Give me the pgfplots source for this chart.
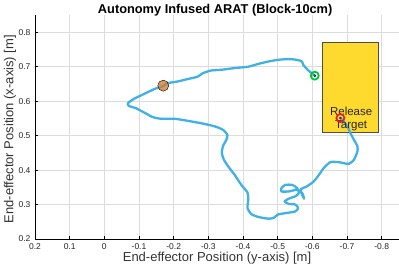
\documentclass[border=0pt]{standalone}
\usepackage{fontspec}
\setmainfont{Liberation Sans}
\usepackage{pgfplots}
\pgfplotsset{compat=1.18}
\definecolor{traj}{HTML}{3FB1E5}
\definecolor{boxy}{HTML}{FFDA2E}
\definecolor{boxe}{HTML}{4D4D4D}
\definecolor{brownm}{HTML}{D4803A}
\definecolor{greenm}{HTML}{00C832}
\definecolor{redm}{HTML}{E8202A}
\definecolor{gridc}{HTML}{DCDCDC}
\begin{document}
\begin{tikzpicture}
\begin{axis}[
  name=ax,
  scale only axis,
  width=364pt, height=224pt,
  x dir=reverse,
  xmin=-0.85, xmax=0.2,
  ymin=0.2, ymax=0.85,
  xtick={-0.8,-0.7,-0.6,-0.5,-0.4,-0.3,-0.2,-0.1,0,0.1,0.2},
  xticklabels={-0.8,-0.7,-0.6,-0.5,-0.4,-0.3,-0.2,-0.1,0,0.1,0.2},
  ytick={0.2,0.3,0.4,0.5,0.6,0.7,0.8},
  yticklabels={0.2,0.3,0.4,0.5,0.6,0.7,0.8},
  axis x line*=bottom,
  axis y line*=left,
  axis line style={black, line width=0.6pt},
  tick style={black, line width=0.5pt},
  major tick length=3pt,
  tick align=inside,
  grid=major,
  grid style={gridc, line width=0.5pt},
  tick label style={font=\fontsize{8.5}{10}\selectfont, text=black!85},
  xticklabel style={yshift=-1pt},
  yticklabel style={xshift=-1pt},
  title={\textbf{Autonomy Infused ARAT (Block-10cm)}},
  title style={font=\fontsize{12.8}{14}\selectfont, at={(axis description cs:0.495,1)}, anchor=base, yshift=-4pt},
  xlabel={End-effector Position (y-axis) [m]},
  ylabel={End-effector Position (x-axis) [m]},
  xlabel style={font=\fontsize{13}{15}\selectfont, text=black!80, at={(axis description cs:0.5,0)}, anchor=center, yshift=-19pt},
  ylabel style={font=\fontsize{13}{15}\selectfont, text=black!80, at={(axis description cs:-0.0687,0.49)}, anchor=center},
  clip=false,
]
% target box
\addplot[fill=boxy, draw=boxe, line width=0.8pt] coordinates {(-0.63,0.51) (-0.79,0.51) (-0.79,0.77) (-0.63,0.77)} -- cycle;
% trajectory
\addplot[traj, line width=2.3pt, smooth, tension=0.4, line join=round, line cap=round] coordinates {
(-0.608,0.673) (-0.589,0.689) (-0.574,0.705) (-0.570,0.715) (-0.555,0.720)
(-0.531,0.722) (-0.502,0.720) (-0.473,0.715) (-0.444,0.708) (-0.415,0.700)
(-0.376,0.696) (-0.337,0.691) (-0.308,0.689) (-0.284,0.681) (-0.269,0.671)
(-0.240,0.664) (-0.211,0.657) (-0.182,0.652) (-0.170,0.644) (-0.144,0.635)
(-0.115,0.621) (-0.086,0.607) (-0.068,0.594) (-0.071,0.586) (-0.090,0.580)
(-0.115,0.567) (-0.139,0.554) (-0.163,0.549) (-0.202,0.549) (-0.240,0.543)
(-0.279,0.536) (-0.318,0.527) (-0.342,0.517) (-0.355,0.502) (-0.352,0.488)
(-0.342,0.469) (-0.339,0.449) (-0.345,0.430) (-0.357,0.411) (-0.376,0.386)
(-0.395,0.357) (-0.413,0.335) (-0.415,0.314) (-0.413,0.290) (-0.423,0.273)
(-0.444,0.264) (-0.473,0.259) (-0.488,0.261) (-0.501,0.271) (-0.522,0.275)
(-0.551,0.280) (-0.559,0.290) (-0.551,0.300) (-0.532,0.302) (-0.520,0.309)
(-0.532,0.317) (-0.551,0.324) (-0.561,0.333) (-0.556,0.348) (-0.542,0.357)
(-0.522,0.357) (-0.511,0.348) (-0.511,0.338) (-0.532,0.338) (-0.556,0.343)
(-0.571,0.333) (-0.576,0.317) (-0.566,0.343) (-0.585,0.353) (-0.604,0.367)
(-0.619,0.386) (-0.633,0.406) (-0.652,0.423) (-0.676,0.423) (-0.705,0.418)
(-0.720,0.430) (-0.730,0.454) (-0.730,0.469) (-0.720,0.488) (-0.710,0.507)
(-0.701,0.527) (-0.686,0.546) (-0.681,0.551)
};
% markers
\addplot[only marks, mark=*, mark size=5.5pt, mark options={fill=brownm, draw=none, fill opacity=0.8}] coordinates {(-0.170,0.645)};
\addplot[only marks, mark=o, mark size=4pt, mark options={draw=greenm, fill=white, line width=1.8pt}] coordinates {(-0.607,0.674)};
\addplot[only marks, mark=o, mark size=4pt, mark options={draw=redm, fill=white, line width=1.8pt}] coordinates {(-0.681,0.551)};
\addplot[only marks, mark=*, mark size=1pt, mark options={fill=traj, draw=none}] coordinates {(-0.607,0.674) (-0.681,0.551)};
\node[font=\fontsize{11.5}{12.5}\selectfont, align=center, text=black!85] at (axis cs:-0.712,0.548) {Release\\Target};
\end{axis}
\pgfresetboundingbox
\path ([shift={(-35pt,-28pt)}]ax.south west) rectangle ([shift={(0pt,15pt)}]ax.north east);
\end{tikzpicture}
\end{document}
